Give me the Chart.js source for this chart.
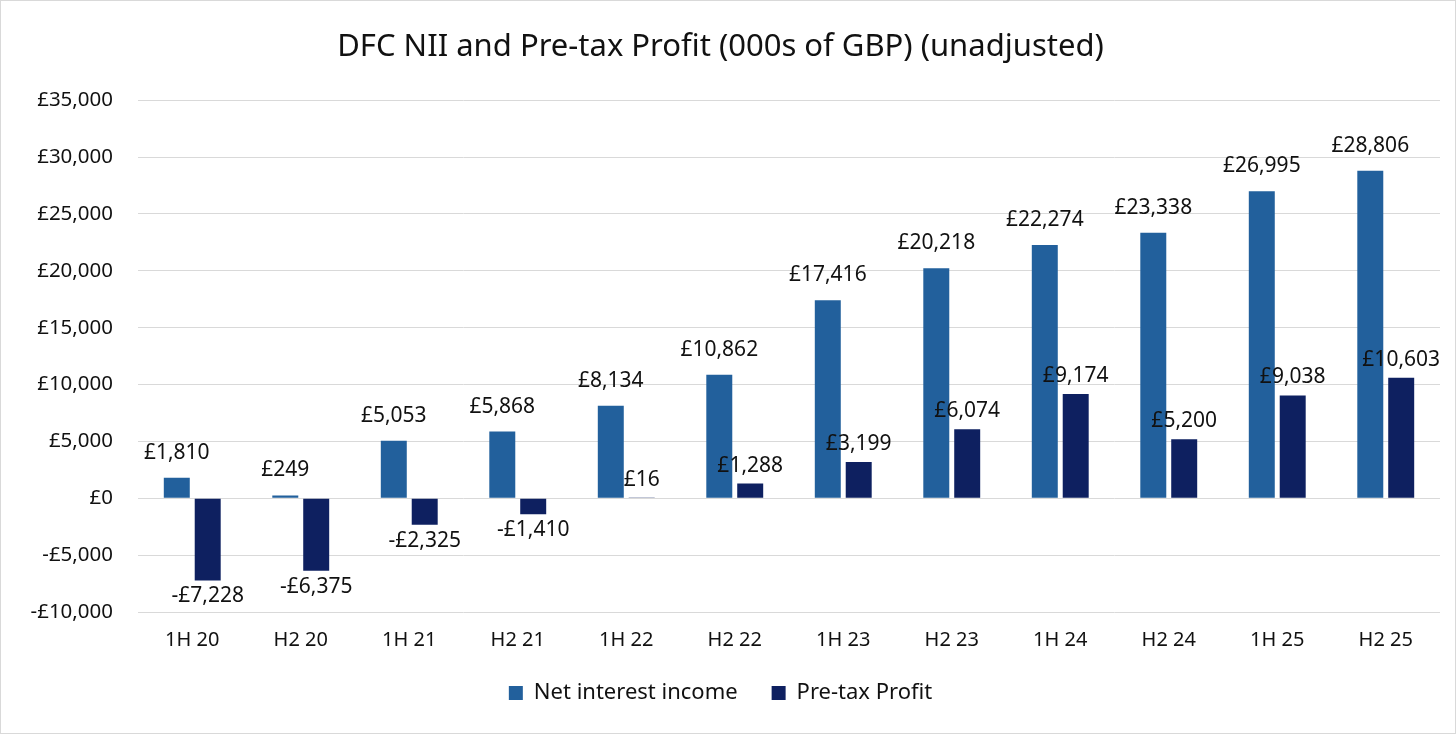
<!DOCTYPE html>
<html>
<head>
<meta charset="utf-8">
<script src="https://cdn.jsdelivr.net/npm/chart.js@4.4.1/dist/chart.umd.min.js"></script>
<style>
  html, body { margin: 0; padding: 0; background: #fff; }
  #wrap { position: absolute; left: 0; top: 0; width: 1454px; height: 732px; border: 1px solid #d9d9d9; }
</style>
</head>
<body>
<div id="wrap"><canvas id="chart"></canvas></div>
<script>
// -------- DATA --------
const periods = ['1H 20', 'H2 20', '1H 21', 'H2 21', '1H 22', 'H2 22', '1H 23', 'H2 23', '1H 24', 'H2 24', '1H 25', 'H2 25'];
const netInterestIncome = [1810, 249, 5053, 5868, 8134, 10862, 17416, 20218, 22274, 23338, 26995, 28806];
const preTaxProfit = [-7228, -6375, -2325, -1410, 16, 1288, 3199, 6074, 9174, 5200, 9038, 10603];
const yMin = -10000;
const yMax = 35000;
const yStep = 5000;
// -------- END DATA --------

const FONT = '"Noto Sans", "Liberation Sans", sans-serif';
const TEXT = '#111';

function gbp(v) {
    const s = '£' + Math.abs(v).toLocaleString('en-GB');
    return v < 0 ? '-' + s : s;
}

// draws value labels above positive bars and below negative ones
const barLabels = {
    id: 'barLabels',
    afterDatasetsDraw(chart) {
        const ctx = chart.ctx;
        ctx.save();
        ctx.font = '21px ' + FONT;
        ctx.fillStyle = TEXT;
        ctx.textAlign = 'center';
        ctx.textBaseline = 'middle';
        chart.data.datasets.forEach((ds, i) => {
            const meta = chart.getDatasetMeta(i);
            meta.data.forEach((bar, j) => {
                const v = ds.data[j];
                const y = v >= 0 ? bar.y - ds.labelOffsetUp : bar.y + ds.labelOffsetDown;
                ctx.fillText(gbp(v), bar.x, y);
            });
        });
        ctx.restore();
    }
};

new Chart(document.getElementById('chart'), {
    type: 'bar',
    data: {
        labels: periods,
        datasets: [
            {
                label: 'Net interest income',
                data: netInterestIncome,
                backgroundColor: '#22609c',
                labelOffsetUp: 25,
                labelOffsetDown: 16,
                categoryPercentage: 0.57,
                barPercentage: 0.84
            },
            {
                label: 'Pre-tax Profit',
                data: preTaxProfit,
                backgroundColor: '#0e2060',
                labelOffsetUp: 18,
                labelOffsetDown: 16,
                categoryPercentage: 0.57,
                barPercentage: 0.84
            }
        ]
    },
    options: {
        responsive: true,
        maintainAspectRatio: false,
        animation: false,
        layout: { padding: { left: 0, right: 15, top: 12, bottom: 19 } },
        plugins: {
            title: {
                display: true,
                text: 'DFC NII and Pre-tax Profit (000s of GBP) (unadjusted)',
                color: TEXT,
                font: { family: FONT, size: 31, weight: 'normal' },
                padding: { top: 16, bottom: 34 }
            },
            legend: {
                position: 'bottom',
                labels: {
                    color: TEXT,
                    font: { family: FONT, size: 22 },
                    boxWidth: 14,
                    boxHeight: 14,
                    padding: 34
                }
            },
            tooltip: { enabled: false }
        },
        scales: {
            x: {
                grid: { display: false, drawTicks: false },
                border: { display: false },
                ticks: { color: TEXT, font: { family: FONT, size: 20 }, padding: 16 },
                afterFit(scale) { scale.height -= 20; }
            },
            y: {
                min: yMin,
                max: yMax,
                grid: { color: '#d9d9d9', drawTicks: false, lineWidth: 1 },
                border: { display: false },
                ticks: {
                    stepSize: yStep,
                    color: TEXT,
                    font: { family: FONT, size: 20.5 },
                    padding: 25,
                    callback: v => gbp(v)
                },
                afterFit(scale) { scale.width = 137; }
            }
        }
    },
    plugins: [barLabels]
});
</script>
</body>
</html>
